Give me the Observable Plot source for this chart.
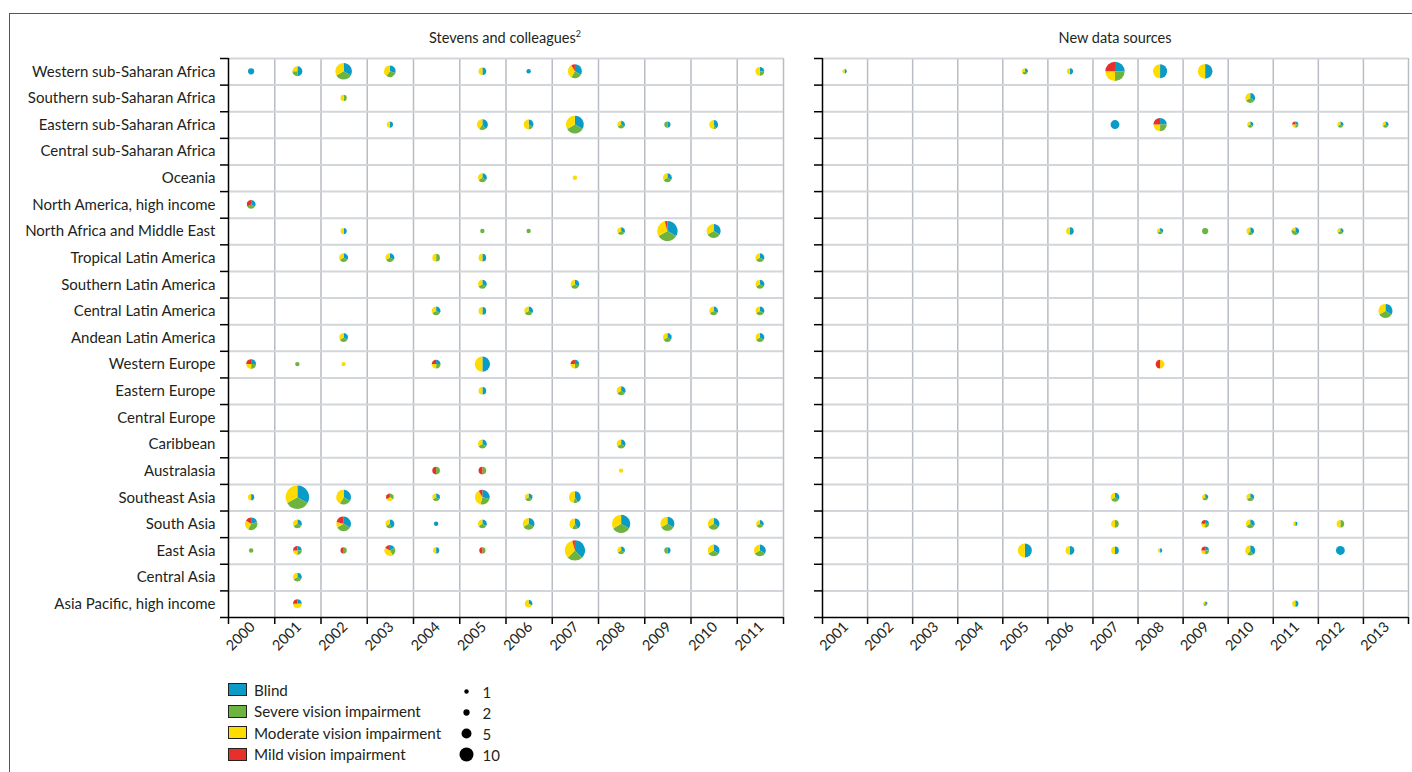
<!DOCTYPE html>
<html>
<head>
<meta charset="utf-8">
<script src="https://cdn.jsdelivr.net/npm/d3@7"></script>
<script src="https://cdn.jsdelivr.net/npm/@observablehq/plot@0.6"></script>
<style>
  html, body { margin: 0; padding: 0; background: #fff; }
  #wrap { position: relative; width: 1412px; height: 772px; overflow: hidden; font-family: Lato, "Open Sans", sans-serif; color: #231f20; }
  #border { position: absolute; left: 9px; top: 13px; width: 1420px; height: 800px; border-left: 1px solid #a3324f; border-top: 1px solid #a3324f; }
  .title { position: absolute; top: 29px; font-size: 14.5px; transform: translateX(-50%); white-space: nowrap; }
  .title sup { font-size: 9px; vertical-align: 6px; line-height: 0; }
  .chart { position: absolute; top: 0; }
  #legend { position: absolute; left: 228px; top: 679px; font-size: 15.2px; }
  .lrow { height: 21.5px; display: flex; align-items: center; }
  .sw { width: 17px; height: 11px; border: 1.5px solid #222; margin-right: 7px; }
  #sizeLegend { position: absolute; left: 455px; top: 680px; }
</style>
</head>
<body>
<div id="wrap">
  <div id="border"></div>
  <div class="title" style="left:505px">Stevens and colleagues<sup>2</sup></div>
  <div class="title" style="left:1115px">New data sources</div>
  <div id="left" class="chart" style="left:0px"></div>
  <div id="right" class="chart" style="left:790px"></div>
  <div id="legend"></div>
  <div id="sizeLegend"></div>
</div>
<script>
// ---------- data ----------
const regions = [
  "Western sub-Saharan Africa", "Southern sub-Saharan Africa", "Eastern sub-Saharan Africa",
  "Central sub-Saharan Africa", "Oceania", "North America, high income",
  "North Africa and Middle East", "Tropical Latin America", "Southern Latin America",
  "Central Latin America", "Andean Latin America", "Western Europe", "Eastern Europe",
  "Central Europe", "Caribbean", "Australasia", "Southeast Asia", "South Asia",
  "East Asia", "Central Asia", "Asia Pacific, high income"
];
const categories = ["Blind", "Severe vision impairment", "Moderate vision impairment", "Mild vision impairment"];
const stevensYears = [2000, 2001, 2002, 2003, 2004, 2005, 2006, 2007, 2008, 2009, 2010, 2011];
const newYears = [2001, 2002, 2003, 2004, 2005, 2006, 2007, 2008, 2009, 2010, 2011, 2012, 2013];
const sizeLegend = [1, 2, 5, 10];

// [region, year, number of sources, blind, severe, moderate, mild]
const stevensPies = [
  ["Western sub-Saharan Africa", 2000, 2, 1, 0, 0, 0],
  ["Western sub-Saharan Africa", 2001, 5, 2, 1, 1, 0],
  ["Western sub-Saharan Africa", 2002, 14, 1, 1, 1, 0],
  ["Western sub-Saharan Africa", 2003, 7, 3, 3, 4, 0],
  ["Western sub-Saharan Africa", 2005, 3, 1, 0, 1, 0],
  ["Western sub-Saharan Africa", 2006, 1, 1, 0, 0, 0],
  ["Western sub-Saharan Africa", 2007, 10, 4, 3, 4, 1],
  ["Western sub-Saharan Africa", 2011, 4, 1, 1, 2, 0],
  ["Southern sub-Saharan Africa", 2002, 2, 0, 1, 1, 0],
  ["Eastern sub-Saharan Africa", 2003, 2, 1, 0, 1, 0],
  ["Eastern sub-Saharan Africa", 2005, 6, 2, 1, 2, 0],
  ["Eastern sub-Saharan Africa", 2006, 5, 2, 1, 3, 0],
  ["Eastern sub-Saharan Africa", 2007, 16, 1, 1, 1, 0],
  ["Eastern sub-Saharan Africa", 2008, 3, 1, 1, 1, 0],
  ["Eastern sub-Saharan Africa", 2009, 2, 1, 1, 0, 0],
  ["Eastern sub-Saharan Africa", 2010, 4, 4, 1, 5, 0],
  ["Oceania", 2005, 4, 1, 1, 1, 0],
  ["Oceania", 2007, 1, 0, 0, 1, 0],
  ["Oceania", 2009, 4, 1, 1, 1, 0],
  ["North America, high income", 2000, 4, 1, 1, 0, 1],
  ["North Africa and Middle East", 2002, 2, 1, 0, 1, 0],
  ["North Africa and Middle East", 2005, 1, 0, 1, 0, 0],
  ["North Africa and Middle East", 2006, 1, 0, 1, 0, 0],
  ["North Africa and Middle East", 2008, 3, 1, 1, 1, 0],
  ["North Africa and Middle East", 2009, 21, 8, 8, 7, 1],
  ["North Africa and Middle East", 2010, 10, 1, 1, 1, 0],
  ["Tropical Latin America", 2002, 4, 1, 1, 1, 0],
  ["Tropical Latin America", 2003, 4, 1, 1, 1, 0],
  ["Tropical Latin America", 2004, 3, 0, 1, 1, 0],
  ["Tropical Latin America", 2005, 3, 1, 0, 1, 0],
  ["Tropical Latin America", 2011, 4, 1, 1, 1, 0],
  ["Southern Latin America", 2005, 4, 1, 1, 1, 0],
  ["Southern Latin America", 2007, 4, 1, 1, 1, 0],
  ["Southern Latin America", 2011, 4, 1, 1, 1, 0],
  ["Central Latin America", 2004, 4, 1, 1, 1, 0],
  ["Central Latin America", 2005, 3, 1, 0, 1, 0],
  ["Central Latin America", 2006, 4, 1, 1, 1, 0],
  ["Central Latin America", 2010, 4, 1, 1, 1, 0],
  ["Central Latin America", 2011, 4, 1, 1, 1, 0],
  ["Andean Latin America", 2002, 4, 1, 1, 1, 0],
  ["Andean Latin America", 2009, 4, 1, 1, 1, 0],
  ["Andean Latin America", 2011, 4, 1, 1, 1, 0],
  ["Western Europe", 2000, 5, 1, 1, 1, 1],
  ["Western Europe", 2001, 1, 0, 1, 0, 0],
  ["Western Europe", 2002, 1, 0, 0, 1, 0],
  ["Western Europe", 2004, 4, 1, 1, 1, 1],
  ["Western Europe", 2005, 12, 1, 0, 1, 0],
  ["Western Europe", 2007, 4, 1, 1, 1, 1],
  ["Eastern Europe", 2005, 3, 1, 0, 1, 0],
  ["Eastern Europe", 2008, 4, 1, 1, 1, 0],
  ["Caribbean", 2005, 4, 1, 1, 1, 0],
  ["Caribbean", 2008, 4, 1, 1, 1, 0],
  ["Australasia", 2004, 3, 0, 1, 0, 1],
  ["Australasia", 2005, 3, 0, 1, 0, 1],
  ["Australasia", 2008, 1, 0, 0, 1, 0],
  ["Southeast Asia", 2000, 2, 1, 0, 1, 0],
  ["Southeast Asia", 2001, 28, 1, 1, 1, 0],
  ["Southeast Asia", 2002, 11, 4, 3, 5, 0],
  ["Southeast Asia", 2003, 3, 0, 1, 1, 1],
  ["Southeast Asia", 2004, 3, 1, 1, 1, 0],
  ["Southeast Asia", 2005, 11, 7, 6, 9, 2],
  ["Southeast Asia", 2006, 3, 1, 1, 1, 0],
  ["Southeast Asia", 2007, 7, 10, 3, 11, 0],
  ["South Asia", 2000, 8, 4, 7, 5, 3],
  ["South Asia", 2001, 4, 1, 1, 1, 0],
  ["South Asia", 2002, 11, 8, 8, 3, 5],
  ["South Asia", 2003, 4, 4, 2, 3, 0],
  ["South Asia", 2004, 1, 1, 0, 0, 0],
  ["South Asia", 2005, 4, 1, 1, 1, 0],
  ["South Asia", 2006, 7, 1, 1, 1, 0],
  ["South Asia", 2007, 6, 5, 2, 5, 0],
  ["South Asia", 2008, 17, 1, 1, 1, 0],
  ["South Asia", 2009, 10, 1, 1, 1, 0],
  ["South Asia", 2010, 7, 1, 1, 1, 0],
  ["South Asia", 2011, 3, 1, 1, 1, 0],
  ["East Asia", 2000, 1, 0, 1, 0, 0],
  ["East Asia", 2001, 4, 1, 1, 1, 1],
  ["East Asia", 2002, 2, 0, 1, 0, 1],
  ["East Asia", 2003, 6, 2, 3, 5, 2],
  ["East Asia", 2004, 2, 1, 0, 1, 0],
  ["East Asia", 2005, 2, 0, 1, 0, 1],
  ["East Asia", 2007, 21, 9, 6, 8, 1],
  ["East Asia", 2008, 3, 1, 1, 1, 0],
  ["East Asia", 2009, 2, 1, 1, 0, 0],
  ["East Asia", 2010, 7, 1, 1, 1, 0],
  ["East Asia", 2011, 7, 1, 1, 1, 0],
  ["Central Asia", 2001, 4, 1, 1, 1, 0],
  ["Asia Pacific, high income", 2001, 4, 1, 0, 2, 1],
  ["Asia Pacific, high income", 2006, 3, 1, 0, 2, 0]
];

const newPies = [
  ["Western sub-Saharan Africa", 2001, 1, 1, 0, 1, 0],
  ["Western sub-Saharan Africa", 2005, 2, 1, 1, 1, 0],
  ["Western sub-Saharan Africa", 2006, 2, 1, 0, 1, 0],
  ["Western sub-Saharan Africa", 2007, 19, 1, 1, 1, 1],
  ["Western sub-Saharan Africa", 2008, 10, 1, 0, 1, 0],
  ["Western sub-Saharan Africa", 2009, 11, 1, 0, 1, 0],
  ["Southern sub-Saharan Africa", 2010, 5, 1, 1, 1, 0],
  ["Eastern sub-Saharan Africa", 2007, 4, 1, 0, 0, 0],
  ["Eastern sub-Saharan Africa", 2008, 9, 1, 1, 1, 1],
  ["Eastern sub-Saharan Africa", 2010, 2, 1, 1, 1, 0],
  ["Eastern sub-Saharan Africa", 2011, 2, 1, 1, 1, 1],
  ["Eastern sub-Saharan Africa", 2012, 2, 1, 1, 1, 0],
  ["Eastern sub-Saharan Africa", 2013, 2, 1, 1, 1, 0],
  ["North Africa and Middle East", 2006, 3, 1, 0, 1, 0],
  ["North Africa and Middle East", 2008, 2, 1, 1, 1, 0],
  ["North Africa and Middle East", 2009, 2, 0, 1, 0, 0],
  ["North Africa and Middle East", 2010, 3, 2, 1, 2, 0],
  ["North Africa and Middle East", 2011, 3, 2, 2, 1, 0],
  ["North Africa and Middle East", 2012, 2, 1, 1, 1, 0],
  ["Central Latin America", 2013, 10, 1, 1, 1, 0],
  ["Western Europe", 2008, 4, 0, 0, 1, 1],
  ["Southeast Asia", 2007, 4, 1, 1, 1, 0],
  ["Southeast Asia", 2009, 2, 1, 1, 1, 0],
  ["Southeast Asia", 2010, 3, 1, 1, 1, 0],
  ["South Asia", 2007, 3, 0, 1, 1, 0],
  ["South Asia", 2009, 3, 1, 1, 1, 1],
  ["South Asia", 2010, 4, 1, 1, 1, 0],
  ["South Asia", 2011, 1, 1, 0, 1, 0],
  ["South Asia", 2012, 3, 0, 1, 1, 0],
  ["East Asia", 2005, 10, 1, 0, 1, 0],
  ["East Asia", 2006, 4, 1, 0, 1, 0],
  ["East Asia", 2007, 3, 1, 0, 1, 0],
  ["East Asia", 2008, 1, 1, 0, 1, 0],
  ["East Asia", 2009, 3, 1, 1, 1, 1],
  ["East Asia", 2010, 5, 2, 1, 2, 0],
  ["East Asia", 2012, 4, 1, 0, 0, 0],
  ["Asia Pacific, high income", 2009, 1, 1, 1, 1, 0],
  ["Asia Pacific, high income", 2011, 2, 1, 0, 1, 0]
];

// ---------- styles ----------
const catColors = ["#0a9bc7", "#6cb33f", "#ffdc00", "#e8302a"];
const ink = "#231f20";
const fontFamily = "Lato, 'Open Sans', sans-serif";
const rScale = {type: "sqrt", domain: [0, 10], range: [0, 7]};

function toSlices(pies) {
  const out = [];
  for (const [region, year, n, ...w] of pies) {
    const total = d3.sum(w);
    let a = 0;
    w.forEach((v, k) => {
      if (v > 0) {
        const a1 = a + (v / total) * 2 * Math.PI;
        out.push({region, row: regions.indexOf(region), year, n, category: categories[k], a0: a, a1});
        a = a1;
      }
    });
  }
  return out;
}

function panel(pies, years, {width, marginLeft, marginRight, labels}) {
  const slices = toSlices(pies);
  const y0 = years[0], y1 = years[years.length - 1] + 1;
  const nRows = regions.length;
  const arc = d3.arc();
  const pieRender = (index, scales, values) => {
    const g = d3.create("svg:g");
    for (const i of index) {
      const d = slices[i];
      g.append("path")
        .attr("transform", `translate(${values.x[i]},${values.y[i]})`)
        .attr("d", arc({innerRadius: 0, outerRadius: values.r[i], startAngle: d.a0, endAngle: d.a1}))
        .attr("fill", values.fill[i]);
    }
    return g.node();
  };
  return Plot.plot({
    width, height: 660,
    marginLeft, marginRight, marginTop: 58, marginBottom: 43,
    x: {domain: [y0, y1]},
    y: {domain: [nRows, 0]},
    r: rScale,
    color: {domain: categories, range: catColors},
    style: {fontFamily, fontSize: "14px", color: ink, background: "transparent", overflow: "visible"},
    marks: [
      Plot.ruleX(d3.range(y0 + 1, y1 + 1), {stroke: "#b7bdc3", strokeWidth: 1.5}),
      Plot.ruleY(d3.range(0, nRows), {stroke: "#d2d6da", strokeWidth: 2}),
      Plot.axisY(d3.range(0, nRows + 1), {tickSize: 8, tickFormat: () => "", stroke: "#000", strokeWidth: 1.5, strokeOpacity: 1}),
      labels ? Plot.axisY(d3.range(0, nRows).map(i => i + 0.5), {
        tickSize: 0, tickPadding: 13, tickFormat: v => regions[Math.floor(v)], fontSize: 15
      }) : null,
      Plot.axisX(d3.range(y0, y1 + 1), {tickSize: 7, tickFormat: () => "", stroke: "#000", strokeWidth: 1.5, strokeOpacity: 1}),
      Plot.axisX(years.map(y => y + 0.5), {
        tickSize: 0, tickPadding: 7, dx: 1, tickRotate: -45, tickFormat: v => String(Math.floor(v)), fontSize: 14.5
      }),
      Plot.ruleY([nRows], {stroke: "#000", strokeWidth: 1.5}),
      Plot.ruleX([y0], {y1: 0, y2: nRows, stroke: "#000", strokeWidth: 1.5}),
      Plot.dot(slices, {x: d => d.year + 0.5, y: d => d.row + 0.5, r: "n", fill: "category", sort: null, render: pieRender})
    ]
  });
}

document.getElementById("left").append(
  panel(stevensPies, stevensYears, {width: 790, marginLeft: 228, marginRight: 7, labels: true})
);
document.getElementById("right").append(
  panel(newPies, newYears, {width: 622, marginLeft: 32, marginRight: 4, labels: false})
);

// colour legend
const legend = document.getElementById("legend");
categories.forEach((c, k) => {
  const row = document.createElement("div");
  row.className = "lrow";
  const sw = document.createElement("span");
  sw.className = "sw";
  sw.style.background = catColors[k];
  const t = document.createElement("span");
  t.textContent = c;
  row.append(sw, t);
  legend.append(row);
});

// size legend
document.getElementById("sizeLegend").append(Plot.plot({
  width: 60, height: 86, margin: 0,
  x: {domain: [0, 1], range: [11, 27], axis: null},
  y: {type: "point", domain: sizeLegend, range: [10, 74], padding: 0, axis: null},
  r: rScale,
  style: {fontFamily, fontSize: "15px", color: ink, background: "transparent", overflow: "visible"},
  marks: [
    Plot.dot(sizeLegend, {x: () => 0, y: d => d, r: d => d, fill: "#000"}),
    Plot.text(sizeLegend, {x: () => 1, y: d => d, dy: 2, text: d => String(d), textAnchor: "start", fill: ink})
  ]
}));
</script>
</body>
</html>
